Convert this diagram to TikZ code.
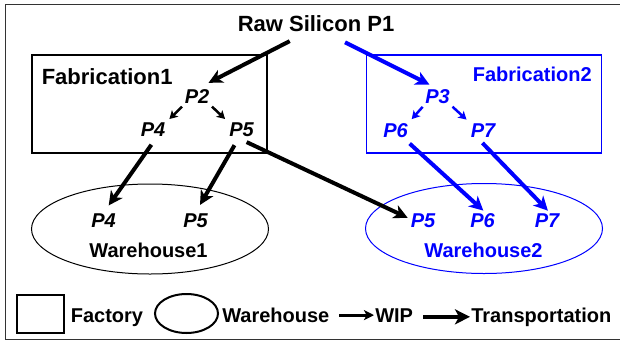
\documentclass[tikz,border=0pt]{standalone}
\usepackage{fontspec}
\setmainfont{Liberation Sans}
\usetikzlibrary{arrows.meta,shapes.geometric,positioning}

\begin{document}
\begin{tikzpicture}[x=1pt,y=-1pt,semithick,
    transport/.style={line width=4pt,-{Stealth[length=14pt,width=14pt,inset=4pt]}},
    wip/.style={line width=2.5pt,-{Stealth[length=8pt,width=9pt,inset=2pt]}}]
  \tikzstyle{lbl}=[font=\bfseries\fontsize{20}{24}\selectfont,inner sep=1pt]
  \tikzstyle{part}=[font=\bfseries\itshape\fontsize{20}{24}\selectfont,inner sep=1pt]
  \tikzstyle{fab}=[draw,line width=1.3pt,minimum width=235pt,minimum height=98pt]
  \tikzstyle{store}=[draw,ellipse,line width=1pt,minimum width=237pt,minimum height=90pt]

  \useasboundingbox (0,0) rectangle (620,340);
  \draw[line width=1pt,black!80] (5,4) rectangle (622,339);

  % factories and warehouses
  \node[fab]        (F1) at (149.5,104) {};
  \node[fab,blue]   (F2) at (484,104)   {};
  \node[store]      (E1) at (150,229)   {};
  \node[store,blue] (E2) at (484,228.5) {};

  \node[lbl,font=\bfseries\fontsize{22}{26}\selectfont] (R) at (316,24) {Raw Silicon P1};
  \node[lbl,anchor=west,font=\bfseries\fontsize{22}{26}\selectfont] (L1) at (40.5,77) {Fabrication1};
  \node[lbl,anchor=east,blue] (L2) at (593,74) {Fabrication2};
  \node[lbl]      (W1) at (148.5,250) {Warehouse1};
  \node[lbl,blue] (W2) at (483.5,250) {Warehouse2};

  % parts
  \node[part]      (P2) at (197,97)      {P2};
  \node[part]      (P4) at (153,130)     {P4};
  \node[part]      (P5) at (241.5,130)   {P5};
  \node[part,blue] (P3) at (437.5,97)    {P3};
  \node[part,blue] (P6) at (395.5,130.5) {P6};
  \node[part,blue] (P7) at (483,130.5)   {P7};
  \node[part]      (Q4) at (103.5,221)   {P4};
  \node[part]      (Q5) at (195.5,221)   {P5};
  \node[part,blue] (S5) at (423,221)     {P5};
  \node[part,blue] (S6) at (482.5,221)   {P6};
  \node[part,blue] (S7) at (547,221)     {P7};

  \path (R.220) edge[transport,shorten <=17pt,shorten >=13pt] (P2.north)
        (R.320) edge[transport,blue,shorten <=20pt,shorten >=9pt] (P3.north)
        (P2.south west) edge[wip,shorten <=2pt,shorten >=4pt] (P4.north east)
        (P2.south east) edge[wip,shorten <=2pt,shorten >=4pt] (P5.north west)
        (P3.south west) edge[wip,blue,shorten <=2pt,shorten >=4pt] (P6.north east)
        (P3.south east) edge[wip,blue,shorten <=2pt,shorten >=4pt] (P7.north west)
        (P4.290) edge[transport,shorten <=8pt,shorten >=9pt] (Q4.north)
        (P5.250) edge[transport,shorten <=8pt,shorten >=9pt] (Q5.north)
        (P5.250) edge[transport,shorten <=9pt,shorten >=2pt] (S5.170)
        (P6.317) edge[transport,blue,shorten <=7pt,shorten >=3pt] (S6.70)
        (P7.240) edge[transport,blue,shorten <=6pt,shorten >=3pt] (S7.70);

  % legend
  \node[draw,line width=2pt,minimum width=47pt,minimum height=38pt] (LF) at (40.5,314) {};
  \node[lbl,anchor=base west] (TF) at (69.5,322) {Factory};
  \node[draw,ellipse,line width=2pt,minimum width=63pt,minimum height=39pt] (LW) at (186.5,313.5) {};
  \node[lbl,anchor=base west] (TW) at (221,322) {Warehouse};
  \node[lbl,anchor=base west] (TI) at (374,322) {WIP};
  \node[lbl,anchor=base west] (TT) at (470,322) {Transportation};
  \coordinate[left=35pt of TI.west] (A1);
  \coordinate[left=47pt of TT.west] (A2);
  \draw[wip,line width=3pt,-{Stealth[length=10pt,width=10pt,inset=2.5pt]}] (A1) -- (TI.west);
  \draw[transport,line width=4.5pt,-{Stealth[length=15pt,width=15pt,inset=4pt]}] (A2) -- (TT.west);
\end{tikzpicture}
\end{document}
